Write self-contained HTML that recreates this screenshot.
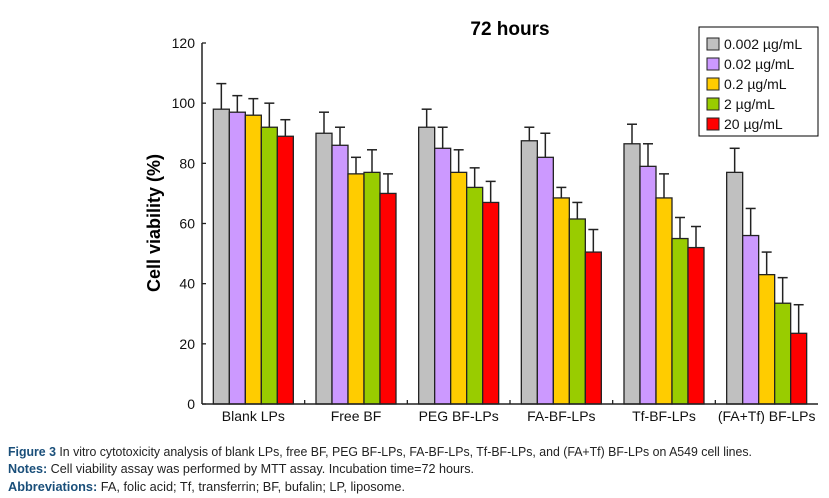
<!DOCTYPE html>
<html><head><meta charset="utf-8"><style>
body{margin:0;background:#fff;}
svg{display:block;font-family:"Liberation Sans",sans-serif;}
</style></head><body>
<svg id="chart" width="829" height="498" viewBox="0 0 829 498">
<text x="510" y="35" font-size="19" font-weight="bold" text-anchor="middle">72 hours</text>
<text transform="translate(160,223) rotate(-90)" font-size="18" font-weight="bold" text-anchor="middle">Cell viability (%)</text>
<g id="plot"></g>
<g>
<rect x="699" y="27" width="119" height="109" fill="#fff" stroke="#000" stroke-width="1"/>
<g id="legend-items"></g>
</g>
<g font-size="13" fill="#222">
<text x="8" y="456" textLength="744" lengthAdjust="spacingAndGlyphs"><tspan font-weight="bold" fill="#1a4f7a">Figure 3</tspan> In vitro cytotoxicity analysis of blank LPs, free BF, PEG BF-LPs, FA-BF-LPs, Tf-BF-LPs, and (FA+Tf) BF-LPs on A549 cell lines.</text>
<text x="8" y="473" textLength="466" lengthAdjust="spacingAndGlyphs"><tspan font-weight="bold" fill="#1a4f7a">Notes:</tspan> Cell viability assay was performed by MTT assay. Incubation time=72 hours.</text>
<text x="8" y="491" textLength="397" lengthAdjust="spacingAndGlyphs"><tspan font-weight="bold" fill="#1a4f7a">Abbreviations:</tspan> FA, folic acid; Tf, transferrin; BF, bufalin; LP, liposome.</text>
</g>
</svg>
<script>
const categories = ["Blank LPs","Free BF","PEG BF-LPs","FA-BF-LPs","Tf-BF-LPs","(FA+Tf) BF-LPs"];
const seriesNames = ["0.002 µg/mL","0.02 µg/mL","0.2 µg/mL","2 µg/mL","20 µg/mL"];
const seriesColors = ["#c0c0c0","#cc99ff","#ffcc00","#99cc00","#ff0000"];
const s1 = [98,90,92,87.5,86.5,77];
const s2 = [97,86,85,82,79,56];
const s3 = [96,76.5,77,68.5,68.5,43];
const s4 = [92,77,72,61.5,55,33.5];
const s5 = [89,70,67,50.5,52,23.5];
const e1 = [8.5,7,6,4.5,6.5,8];
const e2 = [5.5,6,7,8,7.5,9];
const e3 = [5.5,5.5,7.5,3.5,8,7.5];
const e4 = [8,7.5,6.5,5.5,7,8.5];
const e5 = [5.5,6.5,7,7.5,7,9.5];
const yTicks = [0,20,40,60,80,100,120];
const series=[s1,s2,s3,s4,s5], errs=[e1,e2,e3,e4,e5];
const NS="http://www.w3.org/2000/svg";
const X0=202,X1=818,Y0=404,Y1=43,YMAX=120;
const y=v=>Y0-(Y0-Y1)*v/YMAX;
const gw=(X1-X0)/categories.length, bw=16;
const x=(c,s)=>X0+c*gw+gw/2-bw*2.5+s*bw;
const plot=document.getElementById('plot');
function mk(t,a,p){const e=document.createElementNS(NS,t);for(const k in a)e.setAttribute(k,a[k]);(p||plot).appendChild(e);return e;}
series.forEach((ser,si)=>ser.forEach((v,ci)=>{
 const bx=x(ci,si), top=y(v), et=y(v+errs[si][ci]), cx=bx+bw/2;
 const ln=mk('line',{x1:cx,x2:cx,y1:top,y2:et,stroke:'#222','stroke-width':1.5});
 
 
 const cap=mk('line',{x1:cx-5,x2:cx+5,y1:et,y2:et,stroke:'#222','stroke-width':1.5});
 
 
 const r=mk('rect',{x:bx,y:top,width:bw,height:Y0-top,fill:seriesColors[si],stroke:'#222','stroke-width':1.3});
 
 
}));
const ya=mk('line',{x1:X0,x2:X0,y1:Y1,y2:Y0,stroke:'#222','stroke-width':1.5});


const xa=mk('line',{x1:X0,x2:X1,y1:Y0,y2:Y0,stroke:'#222','stroke-width':1.5});


yTicks.forEach(t=>{
 mk('line',{x1:X0,x2:X0+4,y1:y(t),y2:y(t),stroke:'#222','stroke-width':1.3});
 const tx=mk('text',{x:195,y:y(t)+5,'font-size':14,'text-anchor':'end',fill:'#111'});
 tx.textContent=t;
 
 
});
categories.forEach((c,i)=>{
 if(i>0) mk('line',{x1:X0+i*gw,x2:X0+i*gw,y1:Y0,y2:Y0-4,stroke:'#222','stroke-width':1.3});
 const tx=mk('text',{x:X0+i*gw+gw/2,y:421,'font-size':14,'text-anchor':'middle',fill:'#111'});
 tx.textContent=c;
 
 
});
const lg=document.getElementById('legend-items');
seriesNames.forEach((n,i)=>{
 const cy=44+i*20;
 const sw=mk('rect',{x:707,y:cy-6,width:12,height:12,fill:seriesColors[i],stroke:'#222','stroke-width':1},lg);
 
 
 const t=mk('text',{x:724,y:cy+5,'font-size':14,fill:'#111'},lg);
 t.textContent=n;
 
 
});
</script>
</body></html>
